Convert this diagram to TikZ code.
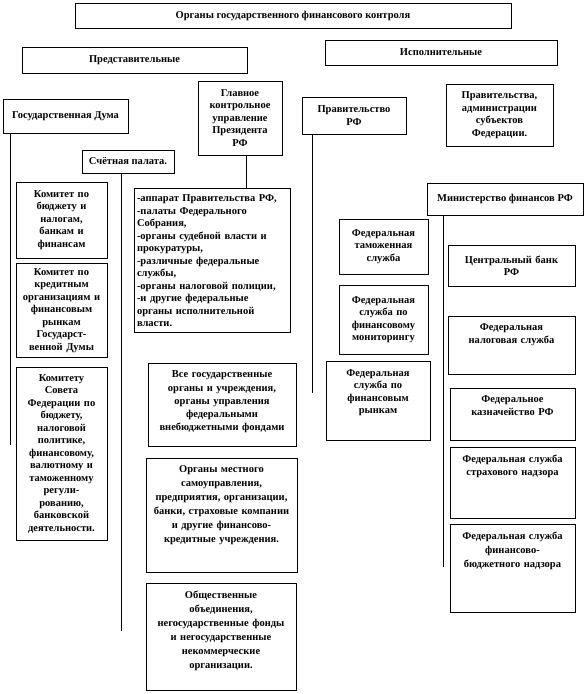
\documentclass[tikz,border=0pt]{standalone}
\usepackage{fontspec}
\setmainfont{Liberation Serif}
\usepackage{tikz}
\usetikzlibrary{positioning,calc}

% text at the top of a box of fixed height
\newcommand{\toptext}[2]{\parbox[c][#1][t]{\linewidth}{\vspace*{3pt}\centering #2}}

\begin{document}
\begin{tikzpicture}[
  x=1pt, y=-1pt,
  every node/.style={font=\fontsize{10.5}{12.5}\selectfont\bfseries},
  blk/.style={draw, line width=0.7pt, align=center, inner xsep=3pt, inner ysep=5pt},
  wide/.style={font=\fontsize{10.5}{14}\selectfont\bfseries},
  line/.style={line width=0.7pt}
]
\useasboundingbox (0,0) rectangle (585,694);

\node[blk, minimum width=436pt, minimum height=25pt] (title) at (293,15.5) {Органы государственного финансового контроля};
\node[blk, minimum width=225pt, minimum height=26pt] (pred) at (134.5,60) {Представительные};
\node[blk, minimum width=232pt, minimum height=25pt] (isp) at (441,52.5) {Исполнительные};

% representative branch
\node[blk, minimum width=125pt, minimum height=34pt] (duma) at (65.5,116) {Государственная Дума};
\node[blk, minimum width=84pt, minimum height=74pt, text width=78pt] (gku) at (240,118) {Главное\\контрольное\\управление\\Президента\\РФ};
\node[blk, minimum width=92pt, minimum height=23pt] (schp) at (128,161.5) {Счётная палата.};
\node[blk, minimum width=91pt, minimum height=76pt, text width=85pt] (kom1) at (61.5,220) {Комитет по\\бюджету и\\налогам,\\банкам и\\финансам};
\node[blk, minimum width=91pt, minimum height=91pt, text width=85pt] (kom2) at (61.5,310.5) {Комитет по\\кредитным\\организациям и\\финансовым\\рынкам\\Государст-\\венной Думы};
\node[blk, minimum width=91pt, minimum height=173pt, text width=85pt] (kom3) at (61.5,453.5) {Комитету\\Совета\\Федерации по\\бюджету,\\налоговой\\политике,\\финансовому,\\валютному и\\таможенному\\регули-\\рованию,\\банковской\\деятельности.};
\node[blk, text width=150pt] (list) at (212,260) {\parbox[c][134pt][t]{\linewidth}{\vspace*{2pt}\raggedright -аппарат Правительства РФ,\\-палаты Федерального\\Собрания,\\-органы судебной власти и\\прокуратуры,\\-различные федеральные\\службы,\\-органы налоговой полиции,\\-и другие федеральные\\органы исполнительной\\власти.}};
\node[blk, text width=142pt, font=\fontsize{10.5}{13.2}\selectfont\bfseries] (vse) at (222,404.5) {\toptext{73pt}{Все государственные\\органы и учреждения,\\органы управления\\федеральными\\внебюджетными фондами}};
\node[blk, wide, text width=145pt] (mest) at (221.5,515) {\toptext{104pt}{Органы местного\\самоуправления,\\предприятия, организации,\\банки, страховые компании\\и другие финансово-\\кредитные учреждения.}};
\node[blk, wide, text width=144pt] (obsh) at (221,636.5) {\toptext{97pt}{Общественные\\объединения,\\негосударственные фонды\\и негосударственные\\некоммерческие\\организации.}};

% executive branch
\node[blk, minimum width=104pt, minimum height=37pt, text width=98pt] (prav) at (354,115.5) {Правительство\\РФ};
\node[blk, minimum width=107pt, minimum height=62pt, text width=101pt] (subj) at (499.5,115) {Правительства,\\администрации\\субъектов\\Федерации.};
\node[blk, minimum width=156pt, minimum height=32pt] (minfin) at (505,199) {Министерство финансов РФ};
\node[blk, minimum width=89pt, minimum height=55pt, text width=83pt] (fts) at (383.5,246.5) {Федеральная\\таможенная\\служба};
\node[blk, minimum width=89pt, minimum height=69pt, text width=83pt] (fsfm) at (383.5,319.5) {Федеральная\\служба по\\финансовому\\мониторингу};
\node[blk, text width=98pt] (fsfr) at (378,401) {\toptext{69pt}{Федеральная\\служба по\\финансовым\\рынкам}};
\node[blk, minimum width=127pt, minimum height=41pt, text width=121pt] (cb) at (511.5,265.5) {Центральный банк\\РФ};
\node[blk, text width=121pt] (fns) at (511.5,345) {\toptext{48pt}{Федеральная\\налоговая служба}};
\node[blk, text width=119pt] (kazn) at (512.5,414) {\toptext{42pt}{Федеральное\\казначейство РФ}};
\node[blk, text width=119pt] (fssn) at (512.5,482.5) {\toptext{61pt}{Федеральная служба\\страхового надзора}};
\node[blk, wide, text width=119pt] (fsfbn) at (512.5,568) {\toptext{78pt}{Федеральная служба\\финансово-\\бюджетного надзора}};

\coordinate (dumaend) at (10,445);
\coordinate (schpend) at (121,631);
\coordinate (pravend) at (312,393);
\coordinate (minfinend) at (443,567);

\draw[line] (duma.south -| dumaend) -- (dumaend);
\draw[line] (schp.south -| schpend) -- (schpend);
\draw[line] ([xshift=6pt]gku.south) -- ([xshift=6pt]gku.south |- list.north);
\draw[line] (prav.south -| pravend) -- (pravend);
\draw[line] (minfin.south -| minfinend) -- (minfinend);
\end{tikzpicture}
\end{document}
